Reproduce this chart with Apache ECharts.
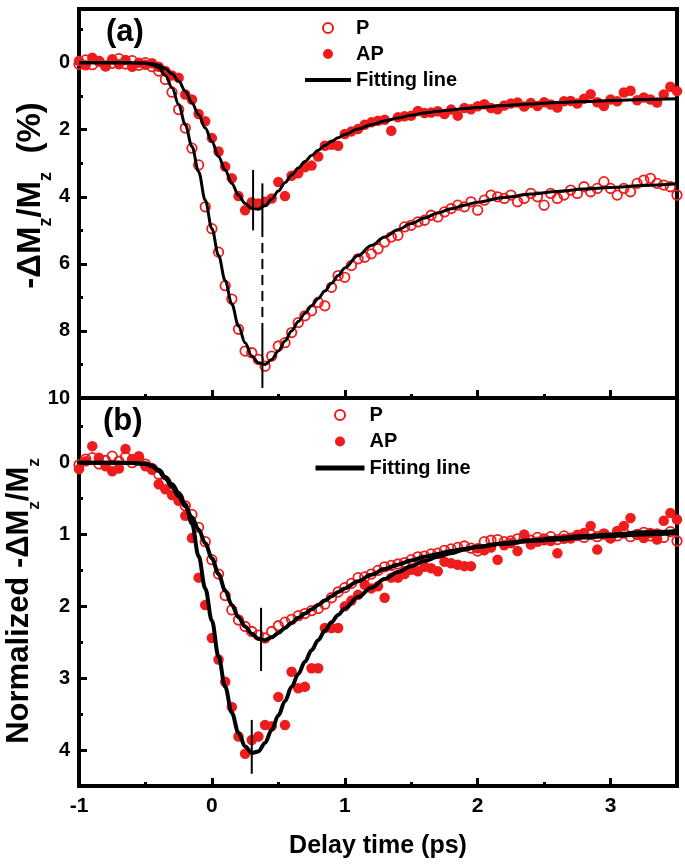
<!DOCTYPE html>
<html>
<head>
<meta charset="utf-8">
<script src="https://cdn.jsdelivr.net/npm/echarts@6/dist/echarts.min.js"></script>
<style>html,body{margin:0;padding:0;background:#fff;}#c{width:685px;height:868px;}</style>
</head>
<body>
<div id="c"></div>
<script>
// ---- measured delay times (ps) ----
const delay = [
-1.00,-0.95,-0.90,-0.85,-0.80,-0.75,-0.70,-0.65,-0.60,-0.55,
-0.50,-0.45,-0.40,-0.35,-0.30,-0.25,-0.20,-0.15,-0.10,-0.05,
0.00,0.05,0.10,0.15,0.20,0.25,0.30,0.35,0.40,0.45,
0.50,0.55,0.60,0.65,0.70,0.75,0.80,0.85,0.90,0.95,
1.00,1.05,1.10,1.15,1.20,1.25,1.30,1.35,1.40,1.45,
1.50,1.55,1.60,1.65,1.70,1.75,1.80,1.85,1.90,1.95,
2.00,2.05,2.10,2.15,2.20,2.25,2.30,2.35,2.40,2.45,
2.50,2.55,2.60,2.65,2.70,2.75,2.80,2.85,2.90,2.95,
3.00,3.05,3.10,3.15,3.20,3.25,3.30,3.35,3.40,3.45,
3.50];

// ---- panel (a): -dMz/Mz (%) ----
const aP = [
0.05,-0.08,0.06,-0.04,0.10,0.02,-0.12,0.04,-0.06,0.08,
0.00,0.12,0.25,0.50,0.88,1.40,1.95,2.55,3.05,4.30,
4.95,5.65,6.65,7.05,7.95,8.60,8.65,8.85,9.05,8.75,
8.45,8.35,8.05,7.75,7.55,7.40,7.15,7.25,6.70,6.35,
6.40,6.05,5.85,5.80,5.70,5.55,5.35,5.20,5.15,4.90,
4.85,4.75,4.70,4.55,4.60,4.45,4.35,4.25,4.30,4.15,
4.40,4.10,3.95,4.00,4.05,3.95,4.15,4.05,3.90,4.00,
4.25,3.90,4.05,3.95,3.80,3.90,3.70,3.85,3.75,3.55,
3.75,3.95,3.75,3.85,3.60,3.50,3.45,3.60,3.65,3.70,
3.95];
const aAP = [
-0.05,0.08,-0.15,-0.05,0.10,-0.10,0.05,-0.08,0.12,0.00,
0.06,0.02,0.12,0.25,0.38,0.45,0.95,1.10,1.53,1.75,
2.25,2.65,3.10,3.45,3.98,4.40,4.16,4.20,4.15,4.05,
3.56,3.98,3.37,3.30,3.12,3.07,2.80,2.48,2.45,2.48,
2.13,2.05,1.98,1.85,1.78,1.73,1.70,2.03,1.63,1.60,
1.58,1.44,1.50,1.49,1.45,1.53,1.40,1.58,1.35,1.39,
1.30,1.24,1.35,1.39,1.28,1.22,1.19,1.31,1.20,1.29,
1.18,1.25,1.34,1.15,1.14,1.22,1.08,0.94,1.18,1.29,
1.10,1.15,0.89,0.84,1.12,1.04,1.10,1.19,0.95,0.72,
0.85];

// ---- panel (b): normalized ----
const bP = [
0.03,-0.05,-0.07,0.02,-0.03,-0.09,-0.02,-0.08,0.00,-0.05,
0.02,0.08,0.16,0.26,0.38,0.50,0.60,0.72,0.90,1.10,
1.35,1.55,1.85,2.05,2.19,2.28,2.35,2.40,2.44,2.35,
2.27,2.22,2.18,2.13,2.10,2.06,2.03,1.97,1.88,1.80,
1.74,1.68,1.60,1.59,1.55,1.50,1.45,1.43,1.41,1.39,
1.35,1.31,1.30,1.27,1.26,1.22,1.20,1.18,1.16,1.19,
1.23,1.10,1.08,1.07,1.10,1.09,1.06,1.05,1.08,1.04,
1.06,1.03,1.07,1.02,1.05,1.01,1.04,1.00,1.03,0.99,
1.05,1.02,0.98,1.03,1.00,0.97,1.02,0.99,1.04,0.96,
1.09];
const bAP = [
0.09,-0.02,-0.23,-0.07,0.05,0.12,0.08,-0.19,-0.05,-0.09,
0.05,0.10,0.30,0.37,0.45,0.53,0.74,1.05,1.60,1.98,
2.44,2.74,3.05,3.40,3.81,4.05,3.86,3.81,3.65,3.67,
3.26,3.65,2.91,3.14,3.12,2.86,2.86,2.30,2.30,2.30,
2.00,1.92,1.84,1.70,1.75,1.72,1.88,1.60,1.60,1.55,
1.49,1.51,1.45,1.47,1.51,1.38,1.40,1.42,1.44,1.44,
1.19,1.22,1.18,1.35,1.15,1.12,1.23,1.00,1.14,1.10,
1.08,1.09,1.26,1.06,1.05,1.02,0.98,0.88,1.21,1.00,
1.05,0.95,0.88,0.77,1.00,1.05,0.98,1.07,0.81,0.70,
0.79];

// ---- fitting curves ----
const fitX = [
-1.0,-0.8,-0.6,-0.5,-0.45,-0.4,-0.35,-0.3,-0.25,-0.2,-0.15,-0.1,-0.05,
0,0.05,0.1,0.15,0.2,0.25,0.3,0.35,0.4,0.45,0.5,0.55,0.6,0.65,0.7,0.75,
0.8,0.85,0.9,0.95,1.0,1.1,1.2,1.3,1.4,1.5,1.6,1.7,1.8,1.9,2.0,
2.2,2.4,2.6,2.8,3.0,3.25,3.5];
const fitPa = [
0,0,0.005,0.02,0.06,0.15,0.38,0.75,1.25,1.85,2.5,3.25,4.1,
4.95,5.75,6.5,7.2,7.85,8.35,8.75,8.95,9.0,8.85,8.6,8.3,8.0,7.72,7.47,7.25,
7.03,6.81,6.58,6.35,6.12,5.75,5.45,5.2,4.98,4.8,4.63,4.48,4.36,4.25,4.16,
4.02,3.92,3.84,3.77,3.72,3.66,3.61];
const fitAPa = [
0,0,0.005,0.015,0.03,0.08,0.18,0.33,0.55,0.85,1.2,1.55,1.95,
2.35,2.8,3.2,3.6,3.95,4.2,4.35,4.37,4.27,4.07,3.83,3.58,3.35,3.14,2.95,2.77,
2.61,2.47,2.35,2.24,2.14,1.98,1.85,1.74,1.65,1.57,1.5,1.45,1.41,1.37,1.34,
1.28,1.23,1.19,1.16,1.13,1.1,1.08];
const fitPb = [
0,0,0.005,0.015,0.05,0.12,0.22,0.34,0.47,0.61,0.76,0.93,1.12,
1.33,1.55,1.78,1.98,2.15,2.28,2.38,2.45,2.47,2.43,2.37,2.3,2.23,2.16,2.1,2.04,
1.98,1.92,1.86,1.8,1.75,1.65,1.56,1.48,1.42,1.36,1.31,1.27,1.23,1.2,1.17,
1.13,1.09,1.07,1.04,1.02,1.0,0.98];
const fitAPb = [
0,0,0.005,0.015,0.04,0.1,0.2,0.3,0.42,0.58,0.85,1.3,1.75,
2.2,2.7,3.12,3.48,3.76,3.95,4.04,4.02,3.9,3.72,3.52,3.32,3.12,2.94,2.77,2.61,
2.47,2.34,2.22,2.12,2.03,1.87,1.74,1.62,1.52,1.44,1.37,1.31,1.26,1.21,1.17,
1.12,1.08,1.05,1.02,1.0,0.97,0.95];

// ---- vertical peak markers [x, y] ----
const markA_AP = [[0.31, 3.2], [0.31, 5.0]];
const markA_P_top = [[0.38, 3.6], [0.38, 4.9]];
const markA_P_dash = [[0.38, 4.9], [0.38, 8.0]];
const markA_P_bot = [[0.38, 8.0], [0.38, 9.7]];
const markB_P = [[0.37, 2.02], [0.37, 2.9]];
const markB_AP = [[0.3, 3.58], [0.3, 4.33]];

// ---- ticks ----
const xMajor = [0, 1, 2, 3];
const xLabels = [-1, 0, 1, 2, 3];
const xMinor = [-0.5, 0.5, 1.5, 2.5];
const yaMajor = [0, 2, 4, 6, 8, 10];
const yaMinor = [-1, 1, 3, 5, 7, 9];
const ybMajor = [0, 1, 2, 3, 4];
const ybMinor = [-0.5, 0.5, 1.5, 2.5, 3.5];

const RED = '#ee1c1c';
const FONT = "'Liberation Sans', Arial, sans-serif";

function pairs(xs, ys) { return xs.map((x, i) => [x, ys[i]]); }

function xAx(grid, major, labels, showLabels, name) {
  return {
    type: 'value', gridIndex: grid, min: -1, max: 3.5, position: 'bottom',
    axisLine: { show: false, onZero: false }, splitLine: { show: false },
    axisTick: { show: true, inside: true, length: 8, customValues: major, lineStyle: { color: '#000', width: 3 } },
    axisLabel: { show: showLabels, customValues: labels, color: '#000', fontSize: 21, fontWeight: 'bold', fontFamily: FONT, margin: 10 },
    name: name || '', nameLocation: 'middle', nameGap: 48,
    nameTextStyle: { color: '#000', fontSize: 25, fontWeight: 'bold', fontFamily: FONT }
  };
}
function xMin(grid) {
  return {
    type: 'value', gridIndex: grid, min: -1, max: 3.5, position: 'bottom', offset: 0,
    axisLine: { show: false, onZero: false }, splitLine: { show: false }, axisLabel: { show: false },
    axisTick: { show: true, inside: true, length: 4, customValues: xMinor, lineStyle: { color: '#000', width: 3 } }
  };
}
function yAx(grid, min, max, major, name, gap, fs, pad) {
  return {
    type: 'value', gridIndex: grid, min: min, max: max, inverse: true, position: 'left',
    axisLine: { show: false, onZero: false }, splitLine: { show: false },
    axisTick: { show: true, inside: true, length: 8, customValues: major, lineStyle: { color: '#000', width: 3 } },
    axisLabel: { customValues: major, color: '#000', fontSize: 20, fontWeight: 'bold', fontFamily: FONT, margin: 9 },
    name: name, nameLocation: 'middle', nameGap: gap, nameRotate: 90, nameMoveOverlap: false,
    nameTextStyle: {
      padding: pad,
      rich: {
        m: { fontSize: fs, fontWeight: 'bold', fontFamily: FONT, color: '#000', lineHeight: fs, verticalAlign: 'top' },
        s: { fontSize: Math.round(fs * 0.56), fontWeight: 'bold', fontFamily: FONT, color: '#000', lineHeight: fs + 8, verticalAlign: 'bottom' }
      }
    }
  };
}
function yMin(grid, min, max, minor) {
  return {
    type: 'value', gridIndex: grid, min: min, max: max, inverse: true, position: 'left', offset: 0,
    axisLine: { show: false, onZero: false }, splitLine: { show: false }, axisLabel: { show: false },
    axisTick: { show: true, inside: true, length: 4, customValues: minor, lineStyle: { color: '#000', width: 3 } }
  };
}
function openSeries(name, xi, yi, ys) {
  return { type: 'scatter', name: name, xAxisIndex: xi, yAxisIndex: yi, data: pairs(delay, ys),
    symbol: 'circle', symbolSize: 9.5,
    itemStyle: { color: 'rgba(255,255,255,0)', borderColor: RED, borderWidth: 1.8, opacity: 1 }, z: 2 };
}
function fillSeries(name, xi, yi, ys) {
  return { type: 'scatter', name: name, xAxisIndex: xi, yAxisIndex: yi, data: pairs(delay, ys),
    symbol: 'circle', symbolSize: 10.5, itemStyle: { color: RED, opacity: 1 }, z: 2 };
}
function fitSeries(xi, yi, ys, w) {
  return { type: 'line', name: 'Fitting line', xAxisIndex: xi, yAxisIndex: yi, data: pairs(fitX, ys),
    symbol: 'none', smooth: 0.35, smoothMonotone: 'x', lineStyle: { color: '#000', width: w }, itemStyle: { color: '#000' }, z: 4 };
}
function markSeries(xi, yi, pts, dashed) {
  return { type: 'line', name: 'marker', xAxisIndex: xi, yAxisIndex: yi, data: pts, symbol: 'none',
    lineStyle: { color: '#000', width: 2, type: dashed ? [10, 6] : 'solid' }, z: 5, silent: true };
}

const chart = echarts.init(document.getElementById('c'), null, { renderer: 'canvas' });
chart.setOption({
  animation: false,
  backgroundColor: '#fff',
  title: [
    { text: '(a)', left: 106, top: 17, padding: 0, textStyle: { fontSize: 31, fontWeight: 'bold', fontFamily: FONT, color: '#000' } },
    { text: '(b)', left: 103, top: 406, padding: 0, textStyle: { fontSize: 31, fontWeight: 'bold', fontFamily: FONT, color: '#000' } }
  ],
  grid: [
    { left: 79, right: 8, top: 9, height: 389, outerBoundsMode: 'none', containLabel: false, show: true, borderColor: '#000', borderWidth: 4, backgroundColor: 'rgba(0,0,0,0)' },
    { left: 79, right: 8, top: 398, height: 388, outerBoundsMode: 'none', containLabel: false, show: true, borderColor: '#000', borderWidth: 4, backgroundColor: 'rgba(0,0,0,0)' }
  ],
  legend: [
    { orient: 'vertical', left: 303, top: 18, padding: 0, itemWidth: 46, itemHeight: 10, itemGap: 6,
      textStyle: { fontSize: 20, fontWeight: 'bold', fontFamily: FONT, color: '#000' },
      data: [ { name: 'P', icon: 'circle' }, { name: 'AP', icon: 'circle' }, { name: 'Fitting line', lineStyle: { width: 4 }, itemStyle: { opacity: 0 } } ],
      selectedMode: false },
    { orient: 'vertical', left: 313, top: 405, padding: 0, itemWidth: 49, itemHeight: 10, itemGap: 6.5,
      textStyle: { fontSize: 20, fontWeight: 'bold', fontFamily: FONT, color: '#000' },
      data: [ { name: 'P', icon: 'circle' }, { name: 'AP', icon: 'circle' }, { name: 'Fitting line', lineStyle: { width: 5 }, itemStyle: { opacity: 0 } } ],
      selectedMode: false }
  ],
  xAxis: [
    xAx(0, xMajor, xLabels, false, ''),
    xMin(0),
    xAx(1, xMajor, xLabels, true, 'Delay time (ps)'),
    xMin(1)
  ],
  yAxis: [
    yAx(0, -1.6, 10, yaMajor, '{m|-ΔM}{s|z}{m|/M}{s|z}{m|  (%)}', 24, 33, [0, 0, 0, 16]),
    yMin(0, -1.6, 10, yaMinor),
    yAx(1, -0.9, 4.5, ybMajor, '{m|Normalized -ΔM}{s|z}{m|/M}{s|z}', 36, 31, [0, 18, 0, 0]),
    yMin(1, -0.9, 4.5, ybMinor)
  ],
  series: [
    openSeries('P', 0, 0, aP),
    fillSeries('AP', 0, 0, aAP),
    fitSeries(0, 0, fitPa, 3),
    fitSeries(0, 0, fitAPa, 3),
    markSeries(0, 0, markA_AP, false),
    markSeries(0, 0, markA_P_top, false),
    markSeries(0, 0, markA_P_dash, true),
    markSeries(0, 0, markA_P_bot, false),
    openSeries('P', 2, 2, bP),
    fillSeries('AP', 2, 2, bAP),
    fitSeries(2, 2, fitPb, 4),
    fitSeries(2, 2, fitAPb, 4),
    markSeries(2, 2, markB_P, false),
    markSeries(2, 2, markB_AP, false)
  ]
});
</script>
</body>
</html>
